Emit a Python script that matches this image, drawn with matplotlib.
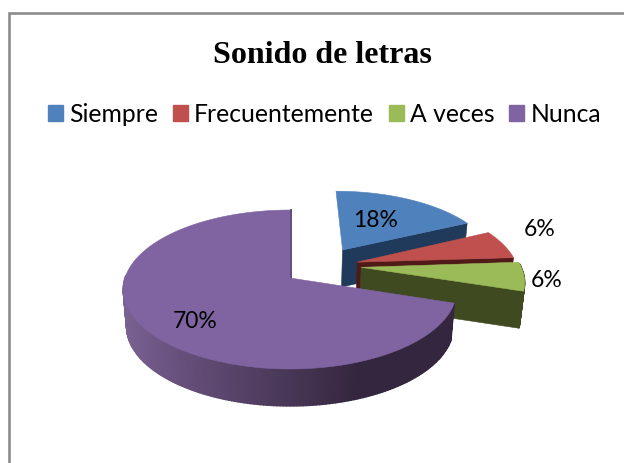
import numpy as np
import matplotlib
matplotlib.use('Agg')
import matplotlib.pyplot as plt
from matplotlib.patches import Patch, Rectangle
from matplotlib.colors import to_rgb

categories = ['Siempre', 'Frecuentemente', 'A veces', 'Nunca']
values = [18, 6, 6, 70]
labels = ['18%', '6%', '6%', '70%']
colors = ['#4F81BD', '#C0504D', '#9BBB59', '#8064A2']
dark_colors = ['#1F3A5A', '#4F1A18', '#3F4A20', '#35263F']

# desplazamiento de cada porcion (en unidades del radio) y posicion de las etiquetas
explode_x = [0.336, 0.42, 0.44, 0.0]
explode_y = [0.38, 0.21, 0.14, 0.0]
slice_scale = [0.95, 0.99, 0.99, 1.0]
label_x = [376, 540, 547, 195]
label_y = [221, 230, 281, 322]

# camara: centro, radios, perspectiva y altura del pastel, en pixeles
CX, CY = 290, 279
RX, RY = 165, 77.8
PERSP = 0.1447
DEPTH = 37
BOTTOM_SCALE = 0.98


def project(x, y, bottom=False):
    """Pasa del plano del pastel a pixeles"""
    d = 1 + PERSP * y
    sx = RX * x / d
    sy = -RY * y / d
    if bottom:
        return CX + sx * BOTTOM_SCALE, CY + sy + DEPTH
    return CX + sx, CY + sy


def mix(c1, c2, t):
    a, b = np.array(to_rgb(c1)), np.array(to_rgb(c2))
    return tuple(a + (b - a) * t)


def draw_face(ax, p1, p2, color, zorder, lw=0.4):
    xs1, ys1 = project(*p1)
    xs2, ys2 = project(*p2)
    xb2, yb2 = project(*p2, bottom=True)
    xb1, yb1 = project(*p1, bottom=True)
    ax.fill([xs1, xs2, xb2, xb1], [ys1, ys2, yb2, yb1], color=color, lw=lw, zorder=zorder)


def draw_slice(ax, start, end, ex, ey, scale, color, dark, zorder):
    """start y end en grados, en sentido antihorario"""
    angles = np.radians(np.arange(start, end + 0.5, 1.0))
    px = ex + scale * np.cos(angles)
    py = ey + scale * np.sin(angles)
    apex = (ex, ey)

    # cara radial que mira hacia delante
    draw_face(ax, apex, (px[0], py[0]), dark, zorder)

    # borde exterior con degradado, solo la parte delantera
    for i in range(len(angles) - 1):
        if np.sin(angles[i]) > 0.05:
            continue
        t = np.clip((np.cos(angles[i]) + 1) / 1.35, 0, 1)
        shade = mix('#7C6396', dark, t) if color == colors[3] else dark
        draw_face(ax, (px[i], py[i]), (px[i + 1], py[i + 1]), shade, zorder + 0.1, lw=1.0)

    # cara superior
    xs, ys = project(np.r_[ex, px], np.r_[ey, py])
    ax.fill(xs, ys, color=color, lw=0.4, zorder=zorder + 0.2)


fig = plt.figure(figsize=(6.24, 4.64), dpi=100)
ax = fig.add_axes([0, 0, 1, 1])
ax.set_xlim(0, 624)
ax.set_ylim(464, 0)
ax.axis('off')

# marco del grafico, se corta a la derecha y abajo
ax.add_patch(Rectangle((8.5, 13.5), 640, 480, fc='white', ec='#8C8C8C', lw=1.9, zorder=0))

# porciones en sentido horario desde las 12, la ultima queda delante
angle = 90.0
for i, v in enumerate(values):
    sweep = v / sum(values) * 360
    draw_slice(ax, angle - sweep, angle, explode_x[i], explode_y[i], slice_scale[i],
               colors[i], dark_colors[i], zorder=2 + i)
    angle -= sweep

# arista oscura de la porcion grande
x0, y0 = project(0, 0)
x1, y1 = project(0, 1)
ax.plot([x0 + 0.8, x1 + 0.8], [y0, y1], color='#5F4A7A', lw=1.4, zorder=5.1)

for i, lab in enumerate(labels):
    ax.text(label_x[i], label_y[i], lab, ha='center', va='center',
            fontsize=16.5, family='Lato', color='black', zorder=10)

ax.text(322, 55.5, 'Sonido de letras', ha='center', va='center', fontsize=23,
        family='Liberation Serif', fontweight='bold', zorder=10)

handles = [Patch(color=c, label=n) for c, n in zip(colors, categories)]
ax.legend(handles=handles, ncol=4, loc='center', bbox_to_anchor=(324.5, 115),
          bbox_transform=ax.transData, frameon=False, handlelength=0.6, handleheight=0.6,
          handletextpad=0.25, columnspacing=0.6, borderpad=0,
          prop={'family': 'Lato', 'size': 17.8})

fig.savefig('out.png', dpi=100)
plt.close(fig)
